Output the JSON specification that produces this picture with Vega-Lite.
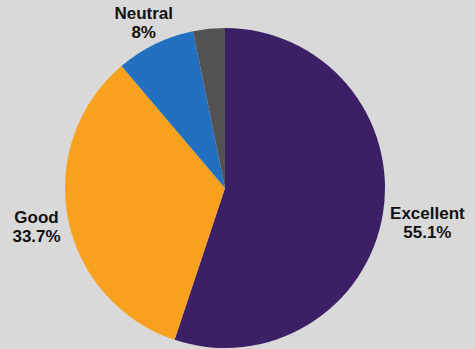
{
  "$schema": "https://vega.github.io/schema/vega-lite/v6.json",
  "width": 450,
  "height": 322,
  "autosize": {"type": "none"},
  "padding": {"left": 0, "right": 25, "top": 27, "bottom": 0},
  "background": "#d9d9d9",
  "view": {"stroke": null},
  "data": {
    "values": [
      {"rating": "Excellent", "share": 55.1, "rank": 1, "label": "Excellent\n55.1%"},
      {"rating": "Good", "share": 33.7, "rank": 2, "label": "Good\n33.7%"},
      {"rating": "Neutral", "share": 8.0, "rank": 3, "label": "Neutral\n8%"},
      {"rating": "Other", "share": 3.2, "rank": 4, "label": ""}
    ]
  },
  "encoding": {
    "theta": {"field": "share", "type": "quantitative", "stack": true},
    "order": {"field": "rank", "type": "quantitative"},
    "color": {
      "field": "rating",
      "type": "nominal",
      "scale": {
        "domain": ["Excellent", "Good", "Neutral", "Other"],
        "range": ["#3b2066", "#f7a11e", "#2271c1", "#525252"]
      },
      "legend": null
    }
  },
  "layer": [
    {"mark": {"type": "arc", "radius": 160}},
    {
      "mark": {
        "type": "text",
        "radius": 205,
        "dy": -7,
        "font": "Liberation Sans",
        "fontWeight": "bold",
        "fontSize": 17,
        "lineHeight": 19,
        "lineBreak": "\n",
        "align": "center",
        "baseline": "middle"
      },
      "encoding": {
        "text": {"condition": {"test": "datum.rating === 'Excellent'", "field": "label"}, "value": ""},
        "color": {"value": "#111111"}
      }
    },
    {
      "mark": {
        "type": "text",
        "radius": 192,
        "dy": -7,
        "font": "Liberation Sans",
        "fontWeight": "bold",
        "fontSize": 17,
        "lineHeight": 19,
        "lineBreak": "\n",
        "align": "center",
        "baseline": "middle"
      },
      "encoding": {
        "text": {"condition": {"test": "datum.rating === 'Good'", "field": "label"}, "value": ""},
        "color": {"value": "#111111"}
      }
    },
    {
      "mark": {
        "type": "text",
        "radius": 186,
        "dy": -7,
        "font": "Liberation Sans",
        "fontWeight": "bold",
        "fontSize": 17,
        "lineHeight": 19,
        "lineBreak": "\n",
        "align": "center",
        "baseline": "middle"
      },
      "encoding": {
        "text": {"condition": {"test": "datum.rating === 'Neutral'", "field": "label"}, "value": ""},
        "color": {"value": "#111111"}
      }
    }
  ]
}
